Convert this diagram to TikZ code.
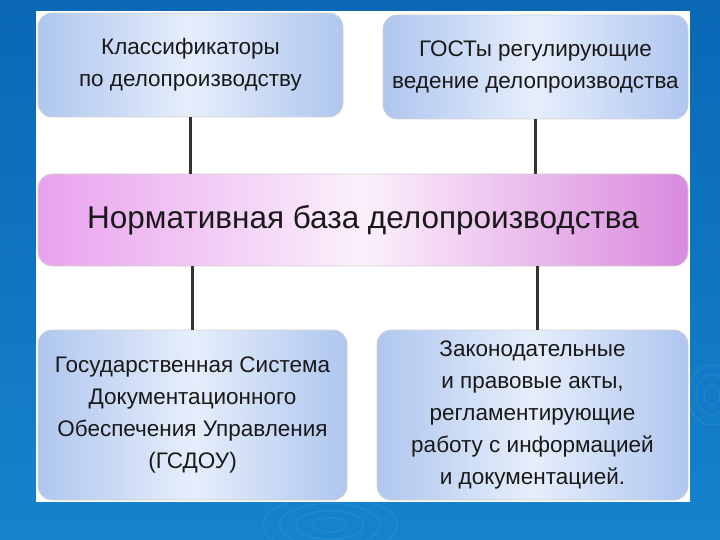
\documentclass[tikz,border=0pt]{standalone}
\usepackage{fontspec}
\setmainfont{Liberation Sans}
\usepackage{xcolor}
\definecolor{fonblue}{HTML}{0A68B4}
\definecolor{fonblue2}{HTML}{1682CE}
\definecolor{boxblue}{HTML}{AFC6EF}
\definecolor{boxlight}{HTML}{E6EEFB}
\definecolor{boxpink}{HTML}{E9A2EE}
\definecolor{pinklight}{HTML}{FBF0FB}
\definecolor{linegray}{HTML}{333333}
\tikzset{
  blok/.style={rounded corners=14pt, draw=gray!35, line width=0.8pt,
    left color=boxblue, right color=boxblue, middle color=boxlight,
    align=center, font=\fontsize{22.5}{32}\selectfont, text=black!90,
    inner sep=0pt},
  glavblok/.style={blok, left color=boxpink, right color=boxpink!85!violet,
    middle color=pinklight, font=\fontsize{31.5}{36}\selectfont},
  svyaz/.style={draw=linegray, line width=3pt}
}
\begin{document}
\begin{tikzpicture}[x=1pt,y=-1pt]
  \useasboundingbox (0,0) rectangle (720,540);
  % fon
  \shade[top color=fonblue, bottom color=fonblue2] (0,0) rectangle (720,540);
  \foreach \r in {12,24,36,48}
    \draw[white, opacity=0.07, line width=1.2pt] (330,525) ellipse ({\r*1.4} and \r*0.6);
  \foreach \r in {10,20,30}
    \draw[white, opacity=0.07, line width=1.2pt] (712,395) ellipse ({\r*0.8} and \r);
  \fill[white] (36,11) rectangle (690,502);
  % bloki
  \node[blok, minimum width=305pt, minimum height=104pt] (klass) at (190.5,65)
    {Классификаторы\\по делопроизводству};
  \node[blok, minimum width=305pt, minimum height=104pt] (gost) at (535.5,67)
    {ГОСТы регулирующие\\ведение делопроизводства};
  \node[glavblok, minimum width=650pt, minimum height=92pt] (norm) at (363,220)
    {Нормативная база делопроизводства};
  \node[blok, minimum width=309pt, minimum height=170pt] (gsdou) at (192.5,415)
    {Государственная Система\\Документационного\\Обеспечения Управления\\(ГСДОУ)};
  \node[blok, minimum width=311pt, minimum height=170pt] (zakon) at (532.5,415)
    {Законодательные\\и правовые акты,\\регламентирующие\\работу с информацией\\и документацией.};
  % linii
  \draw[svyaz] (klass.south) -- (klass.south |- norm.north);
  \draw[svyaz] (gost.south) -- (gost.south |- norm.north);
  \draw[svyaz] (gsdou.north |- norm.south) -- (gsdou.north);
  \draw[svyaz] (537,0 |- norm.south) -- (537,0 |- zakon.north);
\end{tikzpicture}
\end{document}
